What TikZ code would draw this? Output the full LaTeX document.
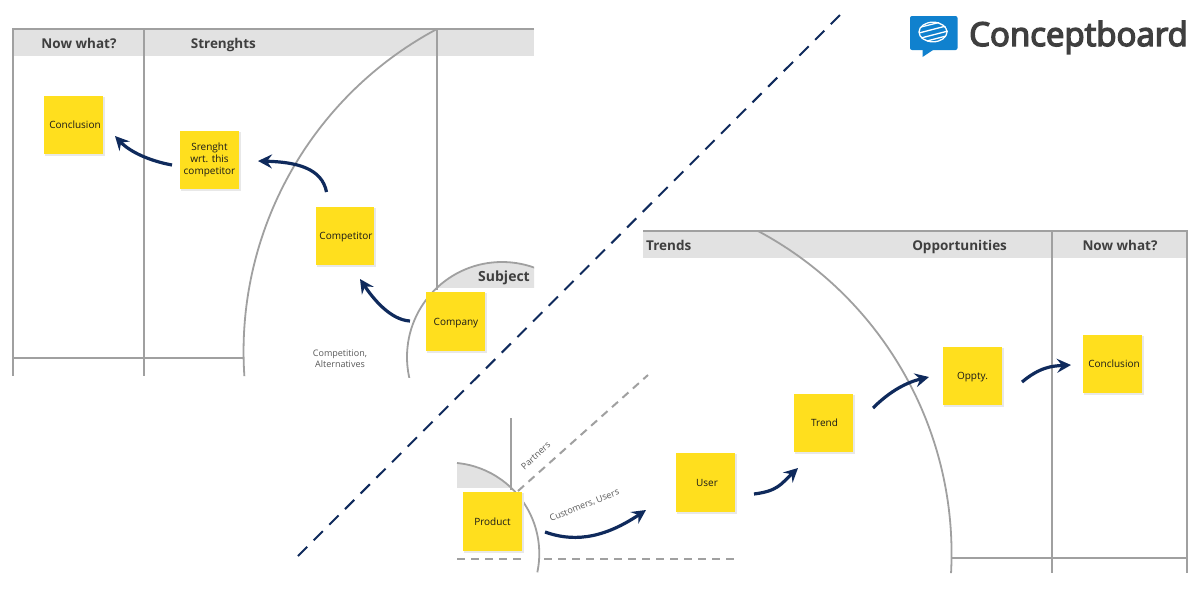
\documentclass[tikz,border=0pt]{standalone}
\usepackage{fontspec}
\setmainfont{Open Sans}
\usetikzlibrary{arrows.meta}
\definecolor{navy}{HTML}{0F2A5C}
\definecolor{rulegrey}{HTML}{A0A0A0}
\definecolor{bandgrey}{HTML}{E2E2E2}
\definecolor{sticky}{HTML}{FFDF1E}
\definecolor{inkdark}{HTML}{3F3F3F}
\definecolor{logoblue}{HTML}{1081CE}
\tikzset{
  x=1pt,y=-1pt,
  rulel/.style={draw=rulegrey,line width=2pt},
  thin rule/.style={draw=rulegrey,line width=1.8pt},
  band/.style={fill=bandgrey,draw=none},
  dashgrey/.style={draw=rulegrey,line width=2pt,dash pattern=on 8pt off 6pt},
  divider/.style={draw=navy,line width=2pt,dash pattern=on 13pt off 9.14pt},
  flow/.style={draw=navy,line width=3.2pt,-{Stealth[length=14pt,width=14pt,inset=5pt]}},
  note/.style={fill=sticky,minimum width=58.5pt,minimum height=58.5pt,inner sep=1pt,align=center,
    font=\fontsize{10}{12}\selectfont,text=black!90,text height=8.5pt,text depth=1.5pt},
  noteshadow/.style={fill=black!9,draw=none},
  head/.style={font=\fontsize{13.5}{16}\selectfont\bfseries,text=inkdark,inner sep=0pt,anchor=base},
  small/.style={font=\fontsize{9}{11}\selectfont,text=black!65,inner sep=0pt,align=center},
}
\newcommand{\notebox}[5][]{% options, name, cx, cy, text
  \fill[noteshadow] (#3-28.5,#4-28.5) rectangle (#3+31,#4+31);
  \node[note,#1] (#2) at (#3,#4) {#5};
}
\begin{document}
\begin{tikzpicture}
\useasboundingbox (0,0) rectangle (1200,600);
\fill[white] (0,0) rectangle (1200,600);

% left panel
\fill[band] (12,29) rectangle (534,56);
\begin{scope}
  \clip (434,240) rectangle (534,287);
  \fill[bandgrey] (502,357) circle[radius=95pt];
\end{scope}
\draw[rulel] (534,29) -- (12.5,29) -- (12.5,376);
\draw[rulel] (144,29) -- (144,376);
\draw[rulel] (436.5,29) -- (436.5,290);
\draw[rulel] (12,358) -- (244,358);
\draw[thin rule] (437,29) arc[start angle=118.1,end angle=183.84,radius=365.7pt];
\begin{scope}
  \clip (400,255) rectangle (534,377);
  \draw[thin rule] (502,357) circle[radius=95pt];
\end{scope}

\node[head] (nowL) at (79,48.5) {Now what?};
\node[head] (strengths) at (223.4,48.5) {Strenghts};
\node[head,font=\fontsize{14}{16}\selectfont\bfseries] (subject) at (504,281) {Subject};
\node[small] (compet) at (340,359) {Competition,\\Alternatives};

% right panel
\fill[band] (643,231) rectangle (1187,258);
\draw[rulel] (643,231) -- (1187,231) -- (1187,573);
\draw[rulel] (1052,231) -- (1052,573);
\draw[rulel] (951,558) -- (1187,558);
\draw[thin rule] (758,231) arc[start angle=61.9,end angle=-3.02,radius=365.9pt];
\node[head] (trends) at (668.7,250) {Trends};
\node[head] (opps) at (959.6,250) {Opportunities};
\node[head] (nowR) at (1120,250) {Now what?};

% product quadrant
\begin{scope}
  \clip (457,440) rectangle (560,487.5);
  \fill[bandgrey] (448.3,554) circle[radius=91pt];
\end{scope}
\draw[thin rule] (457,463) arc[start angle=84.5,end angle=-11.9,radius=91pt];
\draw[thin rule] (511,418) -- (511,490);
\draw[dashgrey] (518,491) -- (648,375);
\draw[dashgrey] (457,558.5) -- (523,558.5);
\draw[dashgrey] (544,558.5) -- (734,558.5);
\node[small,rotate=42] (partners) at (535.7,455.7) {Partners};
\node[small,rotate=22] (customers) at (584.5,505.5) {Customers, Users};

% divider
\coordinate (divA) at (298,556);
\coordinate (divB) at (840,15);
\draw[divider] (divA) -- (divB);

% stickies
\notebox{concL}{73.5}{125}{\hspace*{3pt}Conclusion}
\notebox[text height=,text depth=]{strength}{209.5}{160}{Srenght\\wrt. this\\competitor}
\notebox{competitor}{345}{236}{\hspace*{2pt}Competitor}
\notebox{company}{455.5}{321.5}{\hspace*{1pt}Company}
\notebox{product}{492.5}{521.5}{Product}
\notebox{user}{705.5}{482.5}{\hspace*{3pt}User}
\notebox{trend}{823.5}{423}{\hspace*{2pt}Trend}
\notebox{oppty}{972.5}{376}{Oppty.}
\notebox{concR}{1112.5}{364}{\hspace*{3pt}Conclusion}

% flows: free ends sit beside the stickies
\coordinate (f1s) at (172,165);   \coordinate (f1e) at (115,136);
\coordinate (f2s) at (326.5,192); \coordinate (f2e) at (258,161);
\coordinate (f3s) at (410,321);   \coordinate (f3e) at (360,279);
\coordinate (f4s) at (545,532);   \coordinate (f4e) at (646,510);
\coordinate (f5s) at (754,494);   \coordinate (f5e) at (798,468);
\coordinate (f6s) at (873,408);   \coordinate (f6e) at (929,377);
\coordinate (f7s) at (1022,382);  \coordinate (f7e) at (1071,365);
\draw[flow] (f1s) .. controls (150,161) and (130,152) .. (f1e);
\draw[flow] (f2s) .. controls (322,168) and (296,162) .. (f2e);
\draw[flow] (f3s) .. controls (391,320) and (374,300) .. (f3e);
\draw[flow] (f4s) .. controls (570,541) and (600,541) .. (f4e);
\draw[flow] (f5s) .. controls (778,491) and (781,484) .. (f5e);
\draw[flow] (f6s) .. controls (891,390) and (908,382) .. (f6e);
\draw[flow] (f7s) .. controls (1040,367) and (1052,366) .. (f7e);

% logo
\fill[logoblue,rounded corners=2pt] (910,16) rectangle (957.5,50);
\fill[logoblue] (922.5,48) -- (922.5,57) -- (936,48) -- cycle;
\begin{scope}
  \clip (933,32) ellipse[x radius=15pt,y radius=10.6pt];
  \draw[white,line width=1.3pt] (933,32) ellipse[x radius=14pt,y radius=9.8pt];
  \draw[white,line width=1.3pt] (921,27) -- (939,22.5);
  \draw[white,line width=1.3pt] (919,33) -- (946,26);
  \draw[white,line width=1.3pt] (921,38) -- (948,31);
  \draw[white,line width=1.3pt] (927,41) -- (946,36);
\end{scope}
\node[inner sep=0pt,anchor=base west,text=inkdark,font=\fontsize{33}{38}\selectfont] (brand) at (969,46)
  {\special{pdf:code q 2 Tr 1.4 w 0.247 0.247 0.247 RG}Conceptboard\special{pdf:code Q}};
\end{tikzpicture}
\end{document}
